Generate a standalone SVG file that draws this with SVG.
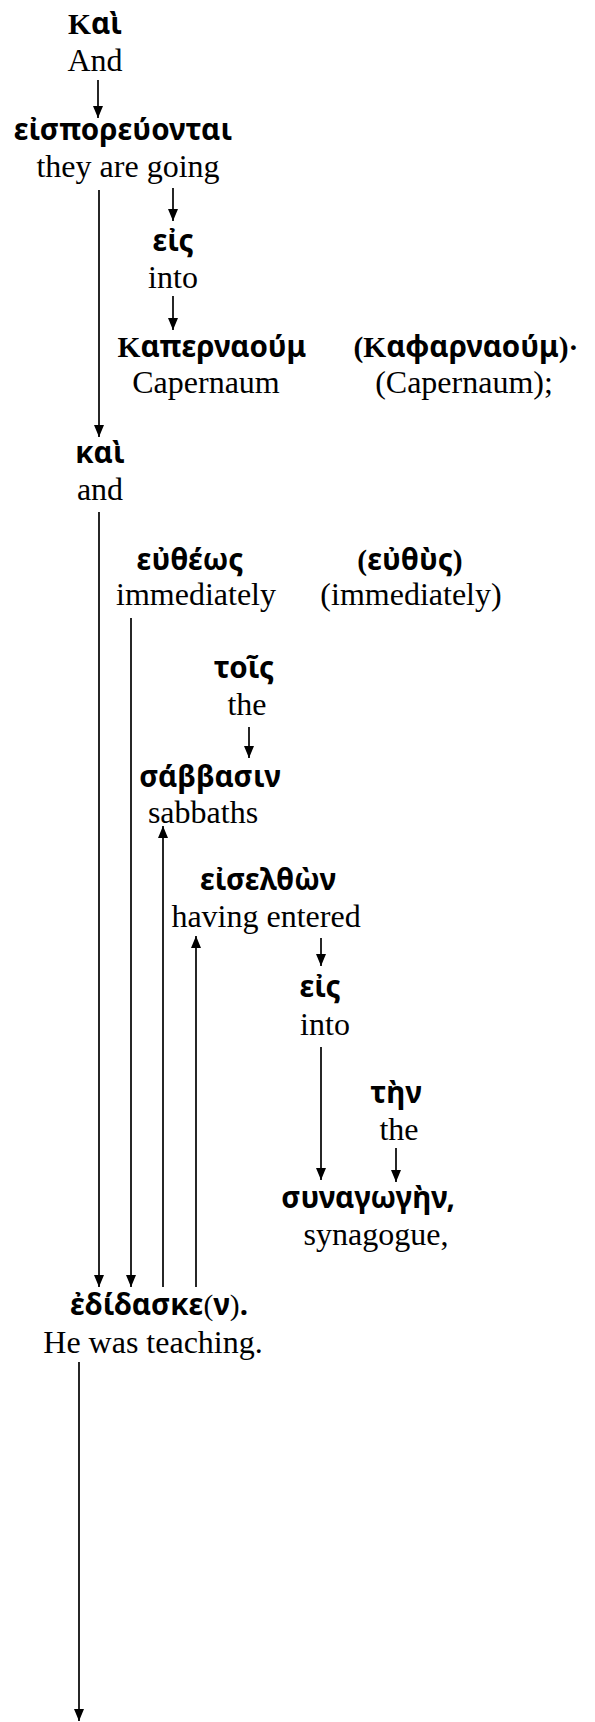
<svg xmlns="http://www.w3.org/2000/svg" width="595" height="1722" viewBox="0 0 595 1722">
<style>
.gr{font-family:"Noto Sans","DejaVu Sans",sans-serif;font-weight:bold;font-size:29.5px;fill:#000;text-anchor:middle}
.sr{font-family:"Liberation Serif",serif;}
.en{font-family:"Liberation Serif",serif;font-size:32px;fill:#000;text-anchor:middle}
.c{stroke:#000;stroke-width:1.7;fill:none}
</style>
<defs>
<marker id="ahd" viewBox="0 0 12 10" refX="12" refY="5" markerWidth="12" markerHeight="10" markerUnits="userSpaceOnUse" orient="auto">
<path d="M0,0 L12,5 L0,10 Z" fill="#000"/>
</marker>
</defs>
<g id="connectors">
<line class="c" x1="98" y1="80" x2="98" y2="118" marker-end="url(#ahd)"/>
<line class="c" x1="99" y1="190" x2="99" y2="437" marker-end="url(#ahd)"/>
<line class="c" x1="173" y1="188" x2="173" y2="221" marker-end="url(#ahd)"/>
<line class="c" x1="173" y1="296" x2="173" y2="330" marker-end="url(#ahd)"/>
<line class="c" x1="99" y1="512" x2="99" y2="1287" marker-end="url(#ahd)"/>
<line class="c" x1="131" y1="618" x2="131" y2="1287" marker-end="url(#ahd)"/>
<line class="c" x1="249" y1="727" x2="249" y2="758" marker-end="url(#ahd)"/>
<line class="c" x1="163" y1="1287" x2="163" y2="826" marker-end="url(#ahd)"/>
<line class="c" x1="196" y1="1287" x2="196" y2="936" marker-end="url(#ahd)"/>
<line class="c" x1="321" y1="938" x2="321" y2="966" marker-end="url(#ahd)"/>
<line class="c" x1="321" y1="1047" x2="321" y2="1180" marker-end="url(#ahd)"/>
<line class="c" x1="396" y1="1148" x2="396" y2="1182" marker-end="url(#ahd)"/>
<line class="c" x1="79" y1="1362" x2="79" y2="1721" marker-end="url(#ahd)"/>
</g>
<g id="n1"><text class="gr" x="95" y="34"><tspan class="sr">Κ</tspan>αὶ</text><text class="en" x="95" y="71">And</text></g>
<g id="n2"><text class="gr" x="123" y="140">εἰσπορεύονται</text><text class="en" x="128" y="177">they are going</text></g>
<g id="n3"><text class="gr" x="173" y="251">εἰς</text><text class="en" x="173" y="288">into</text></g>
<g id="n4"><text class="gr" x="212" y="357"><tspan class="sr">Κ</tspan>απερναούμ</text><text class="en" x="206" y="393">Capernaum</text></g>
<g id="n5"><text class="gr" x="466" y="357"><tspan class="sr">(Κ</tspan>αφαρναούμ<tspan class="sr">)·</tspan></text><text class="en" x="464" y="393">(Capernaum);</text></g>
<g id="n6"><text class="gr" x="100" y="463">καὶ</text><text class="en" x="100" y="500">and</text></g>
<g id="n7"><text class="gr" x="190" y="570">εὐθέως</text><text class="en" x="196" y="605">immediately</text></g>
<g id="n8"><text class="gr" x="410" y="570"><tspan class="sr">(</tspan>εὐθὺς<tspan class="sr">)</tspan></text><text class="en" x="411" y="605">(immediately)</text></g>
<g id="n9"><text class="gr" x="244" y="678">τοῖς</text><text class="en" x="247" y="715">the</text></g>
<g id="n10"><text class="gr" x="210" y="787">σάββασιν</text><text class="en" x="203" y="823">sabbaths</text></g>
<g id="n11"><text class="gr" x="268" y="890">εἰσελθὼν</text><text class="en" x="266" y="927">having entered</text></g>
<g id="n12"><text class="gr" x="320" y="997">εἰς</text><text class="en" x="325" y="1035">into</text></g>
<g id="n13"><text class="gr" x="396" y="1103">τὴν</text><text class="en" x="399" y="1140">the</text></g>
<g id="n14"><text class="gr" x="368" y="1208">συναγωγὴν,</text><text class="en" x="376" y="1245">synagogue,</text></g>
<g id="n15"><text class="gr" x="159" y="1315">ἐδίδασκε<tspan class="sr" font-weight="normal">(</tspan>ν<tspan class="sr" font-weight="normal">)</tspan>.</text><text class="en" x="153" y="1353">He was teaching.</text></g>
</svg>
